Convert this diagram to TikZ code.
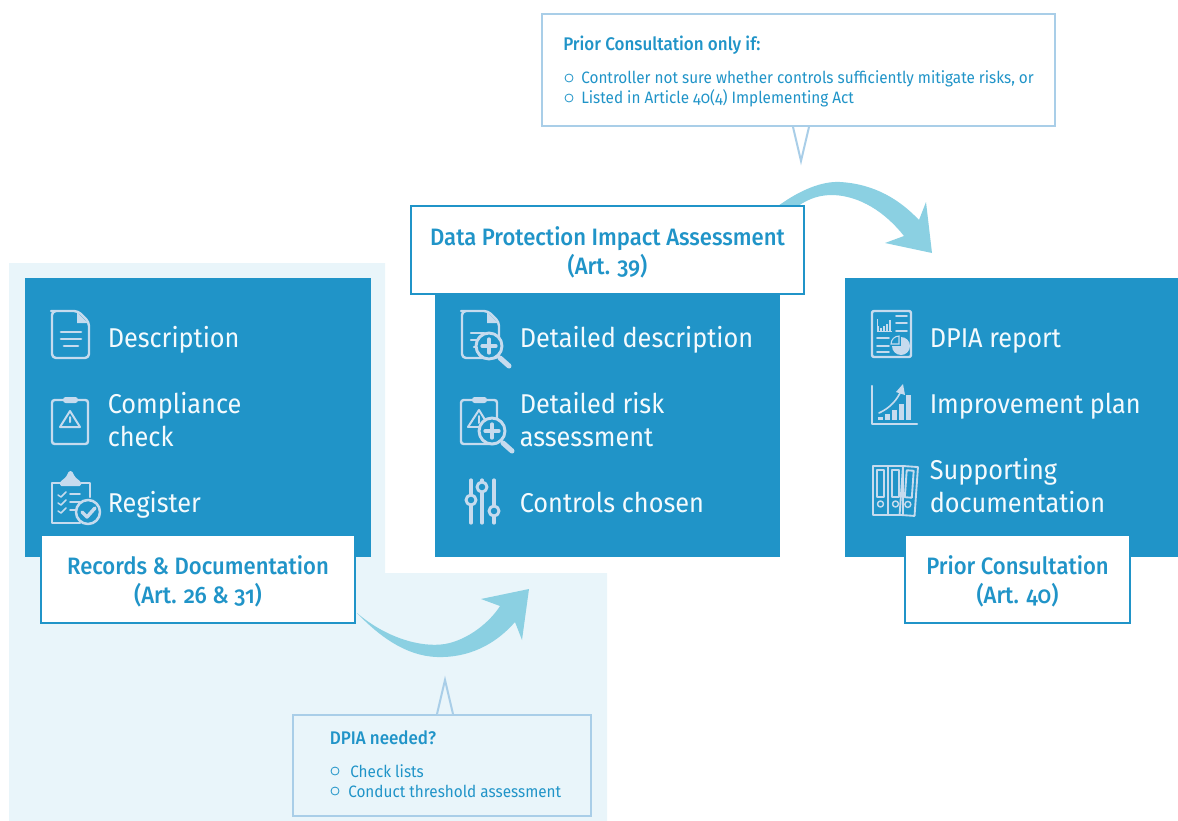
\documentclass[tikz,border=0pt]{standalone}
\usepackage{fontspec}
\setmainfont[Numbers=OldStyle,FakeStretch=0.93]{Fira Sans}
\newfontfamily\medfont[Numbers=OldStyle,FakeStretch=0.93]{Fira Sans Medium}
\definecolor{dpblue}{HTML}{2094C8}
\definecolor{palebg}{HTML}{E9F5FA}
\definecolor{arrowblue}{HTML}{8BD0E2}
\definecolor{calloutline}{HTML}{A9CEE8}
\definecolor{iconblue}{HTML}{C6DBEE}
\definecolor{itemwhite}{HTML}{F4FAFD}
\newcommand{\labelstrut}{\rule{0pt}{18pt}}
\tikzset{
  panel/.style={fill=dpblue,draw=none},
  itemtext/.style={text=itemwhite,inner sep=0pt,align=left,font=\fontsize{20.4}{24.75}\selectfont},
  steplabel/.style={draw=dpblue,fill=white,line width=1.5pt,text=dpblue,inner sep=0pt,align=center,anchor=north west,font=\medfont\fontsize{17.8}{22}\selectfont},
  callout/.style={draw=calloutline,line width=1.5pt,inner sep=0pt,anchor=north west},
  calltitle/.style={text=dpblue,inner sep=0pt,anchor=base west,font=\medfont\fontsize{13.7}{15}\selectfont},
  calltext/.style={text=dpblue,inner sep=0pt,anchor=base west,font=\fontsize{12.35}{15}\selectfont},
  bulletmark/.style={draw=dpblue,circle,line width=0.6pt,minimum size=6pt,inner sep=0pt},
  icon/.style={draw=iconblue,line width=1.8pt,line cap=round,line join=round},
  lens/.pic={
    \draw[icon,fill=dpblue,line width=2.2pt] (0,0) circle (13);
    \draw[icon,line width=3.8pt] (11,12) -- (20,20);
    \draw[icon,line width=2.4pt] (-7,0) -- (7,0) (0,-7) -- (0,7);
  },
  clipboard/.pic={
    \draw[icon,rounded corners=2] (11,3) -- (0,3) -- (0,47) -- (36,47) -- (36,3) -- (25,3);
    \fill[iconblue,rounded corners=2] (11,6) -- (11,0) -- (26,0) -- (26,6) -- cycle;
  },
  docsheet/.pic={
    \draw[icon,rounded corners=3] (3,0) -- (26,0) -- (37,11) -- (37,47) -- (0,47) -- (0,0) -- cycle;
    \fill[iconblue] (25,1) -- (36,12) -- (25,12) -- cycle;
  }
}
\begin{document}
\begin{tikzpicture}[x=0.75pt,y=-0.75pt]
  \useasboundingbox (0,0) rectangle (1178,821);
  % fond clair
  \fill[palebg] (9,263) -- (385,263) -- (385,573) -- (607,573) -- (607,821) -- (9,821) -- cycle;
  % les trois panneaux
  \node (recpanel) [panel,minimum width=346*0.75pt,minimum height=279*0.75pt,anchor=north west,inner sep=0pt] at (25,278) {};
  \node (dpiapanel) [panel,minimum width=345*0.75pt,minimum height=263*0.75pt,anchor=north west,inner sep=0pt] at (435,294) {};
  \node (priorpanel) [panel,minimum width=333*0.75pt,minimum height=279*0.75pt,anchor=north west,inner sep=0pt] at (845,278) {};
  % fleches courbes
  \fill[arrowblue] (357,613) .. controls (385,637) and (420,648) .. (445,644)
    .. controls (468,640) and (490,622) .. (500,606) -- (481,599) -- (529,589) -- (522,640) -- (515,622)
    .. controls (495,645) and (468,658) .. (437,657) .. controls (405,656) and (378,635) .. (357,613) -- cycle;
  \fill[arrowblue] (778,206) .. controls (800,190) and (822,181) .. (840,182)
    .. controls (875,184) and (900,200) .. (919,220) -- (926,202) -- (932,253) -- (885,243) -- (904,236)
    .. controls (885,212) and (860,196) .. (833,195) .. controls (820,195) and (810,198) .. (798,206) -- cycle;
  % textes des panneaux
  \foreach \nm/\xpos/\ypos/\txt in {desc/107.5/347/Description,reg/107.5/512/Register,
    ddesc/519.5/347/Detailed description,chosen/519.5/512/Controls chosen,
    report/929.5/347/DPIA report,plan/929.5/413/Improvement plan}
    \node (\nm) [itemtext,anchor=base west] at (\xpos,\ypos) {\txt};
  \foreach \nm/\xpos/\ypos/\txt in {comp/107.5/420/{Compliance\\check},risk/519.5/420/{Detailed risk\\assessment},
    supp/929.5/486/{Supporting\\documentation}}
    \node (\nm) [itemtext,anchor=west] at (\xpos,\ypos) {\txt};
  % icones
  \pic at (52,311) {docsheet};
  \draw[icon,line width=2pt] (61,332) -- (81,332) (61,339) -- (81,339) (64,346) -- (78,346);
  \pic at (52,397) {clipboard};
  \draw[icon,line width=1.5pt] (60,427) -- (70,411) -- (80,427) -- cycle (70,417) -- (70,422);
  % register
  \draw[icon] (61,483) -- (52,483) -- (52,523) -- (80,523) (90,497) -- (90,483) -- (81,483);
  \fill[iconblue,rounded corners=1] (60,486) -- (60,482) -- (66,477) -- (69,471) -- (72,471) -- (75,477) -- (81,482) -- (81,486) -- cycle;
  \foreach \ypos in {495,503,511} {
    \draw[icon,line width=1.1pt] (58,\ypos) -- (61,\ypos+2) -- (66,\ypos-3);
    \draw[icon,line width=1.3pt] (70,\ypos-1) -- (80,\ypos-1);
  }
  \draw[icon,fill=dpblue,line width=1.9pt] (88,512) circle (12);
  \draw[icon,line width=2.6pt] (82,512) -- (87,517) -- (95,508);
  % dpia
  \pic at (462,311) {docsheet};
  \draw[icon,line width=1.8pt] (471,333) -- (484,333) (471,340) -- (478,340) (474,347) -- (478,347);
  \pic at (489,346) {lens};
  \pic at (461,397) {clipboard};
  \draw[icon,line width=1.5pt] (468,427) -- (479,410) -- (487,423);
  \draw[icon,line width=1.5pt] (468,427) -- (480,427) (479,416) -- (479,423);
  \pic at (492,431) {lens};
  \foreach \xpos/\knob in {471/500,482/487,494/511} {
    \draw[icon,line width=2.4pt] (\xpos,480) -- (\xpos,523);
    \draw[icon,fill=dpblue,line width=2.2pt] (\xpos,\knob) circle (5);
  }
  % report
  \draw[icon,rounded corners=1.5] (872,311) rectangle (911,357);
  \foreach \xpos/\ypos in {878/326,881/328,884/326,887/324,890/320} \draw[iconblue,line width=1.1pt] (\xpos,331) -- (\xpos,\ypos);
  \draw[iconblue,line width=0.7pt] (877,319) -- (877,331) -- (892,331);
  \foreach \ypos in {316,323,331} \draw[icon,line width=1.3pt] (896,\ypos) -- (907,\ypos);
  \foreach \ypos in {338,346,352} \draw[icon,line width=1.3pt] (877,\ypos) -- (889,\ypos);
  \fill[iconblue] (901,346) -- (901,337) arc[start angle=-90,end angle=180,radius=9] -- cycle;
  \draw[iconblue,line width=0.8pt] (899,344) -- (891,344) arc[start angle=180,end angle=270,radius=8] -- cycle;
  % growth
  \draw[icon] (872,386) -- (872,424) -- (917,424);
  \foreach \xpos/\ypos in {878/417,885/414,892/410,899/404,906/395} \fill[iconblue] (\xpos,420) rectangle (\xpos+5,\ypos);
  \draw[icon,line width=1.2pt] (879,413) .. controls (890,408) and (897,400) .. (901,391);
  \fill[iconblue] (896,392) -- (903,384) -- (905,395) -- cycle;
  % binders
  \foreach \xpos in {873,888} {
    \draw[icon,line width=1.4pt] (\xpos,466) rectangle (\xpos+15,515);
    \draw[icon,line width=1.4pt] (\xpos+4,470) rectangle (\xpos+11,497);
    \draw[icon,line width=1.1pt] (\xpos+7.5,504) circle (3);
  }
  \begin{scope}[shift={(903,466)},rotate=-4]
    \draw[icon,line width=1.4pt] (0,0) rectangle (15,49);
    \draw[icon,line width=1.4pt] (4,4) rectangle (11,31);
    \draw[icon,line width=1.1pt] (7.5,38) circle (3);
  \end{scope}
  % etiquettes
  \node (reclabel) [steplabel,minimum width=314*0.75pt,minimum height=88*0.75pt] at (40,534) {\labelstrut Records \& Documentation\\(Art. 26 \& 31)};
  \node (dpialabel) [steplabel,minimum width=393*0.75pt,minimum height=88*0.75pt] at (410,205) {\labelstrut Data Protection Impact Assessment\\(Art. 39)};
  \node (priorlabel) [steplabel,minimum width=225*0.75pt,minimum height=88*0.75pt] at (904,534) {\labelstrut Prior Consultation\\(Art. 40)};
  % bulles
  \node (ifbox) [callout,fill=white,minimum width=513*0.75pt,minimum height=112*0.75pt] at (541,13) {};
  \coordinate (iftip) at (801,161);
  \fill[white] ([xshift=-6pt]ifbox.south -| iftip) -- (iftip) -- ([xshift=6pt]ifbox.south -| iftip) -- cycle;
  \draw[calloutline,line width=1.5pt] ([xshift=-6pt]ifbox.south -| iftip) -- (iftip) -- ([xshift=6pt]ifbox.south -| iftip);
  \node (iftitle) [calltitle] at (563,50) {Prior Consultation only if:};
  \node (ifone) [calltext] at (581,83) {Controller not sure whether controls sufficiently mitigate risks, or};
  \node (iftwo) [calltext] at (581,103) {Listed in Article 40(4) Implementing Act};
  \node (ifbulone) [bulletmark] at (569,78) {};
  \node (ifbultwo) [bulletmark] at (569,98) {};
  \node (needbox) [callout,fill=palebg,minimum width=298*0.75pt,minimum height=101*0.75pt] at (292,714) {};
  \coordinate (needtip) at (445,680);
  \fill[palebg] ([xshift=-6pt]needbox.north -| needtip) -- (needtip) -- ([xshift=6pt]needbox.north -| needtip) -- cycle;
  \draw[calloutline,line width=1.5pt] ([xshift=-6pt]needbox.north -| needtip) -- (needtip) -- ([xshift=6pt]needbox.north -| needtip);
  \node (needtitle) [calltitle] at (329.5,744) {DPIA needed?};
  \node (needone) [calltext] at (350,777) {Check lists};
  \node (needtwo) [calltext] at (348,797) {Conduct threshold assessment};
  \node (needbulone) [bulletmark] at (335,771) {};
  \node (needbultwo) [bulletmark] at (335,791) {};
\end{tikzpicture}
\end{document}
